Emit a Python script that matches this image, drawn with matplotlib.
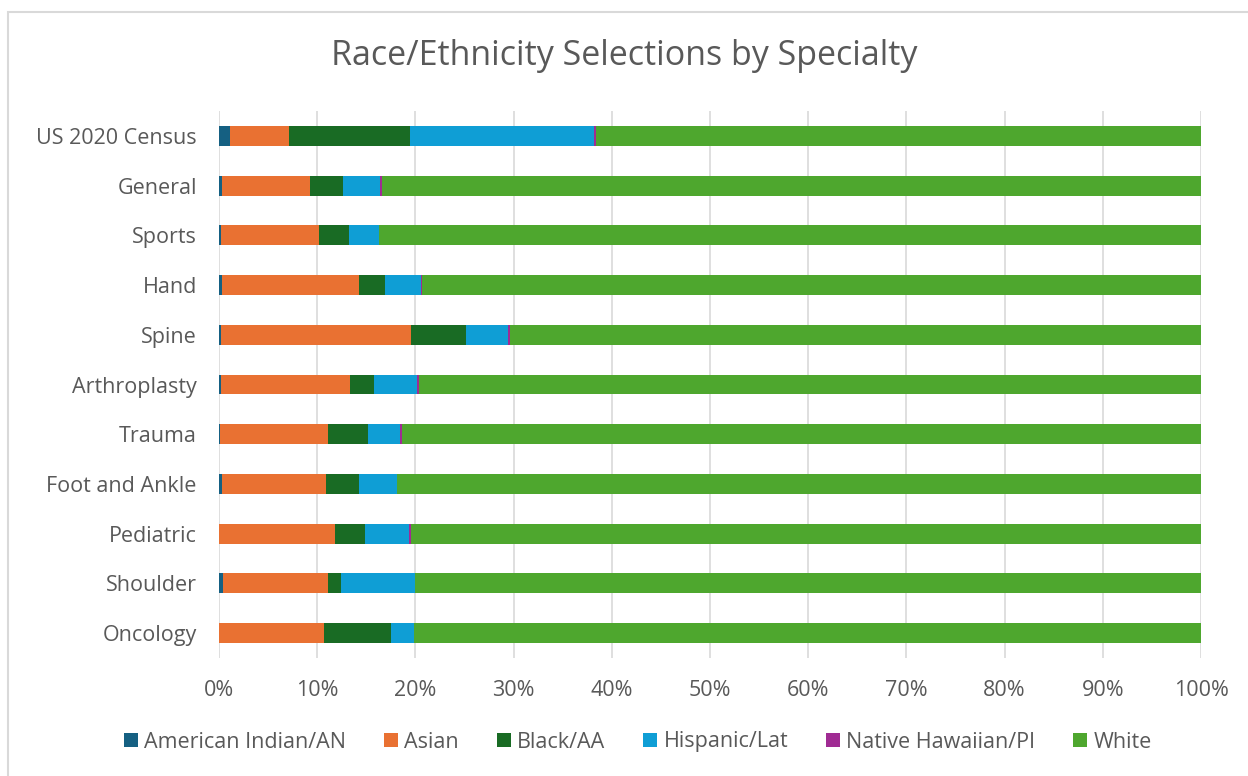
import matplotlib.pyplot as plt
from matplotlib.patches import Rectangle
from matplotlib.ticker import PercentFormatter

plt.rcParams['font.family'] = ['Open Sans', 'DejaVu Sans']

# categories top to bottom
specialties = ['US 2020 Census', 'General', 'Sports', 'Hand', 'Spine', 'Arthroplasty',
               'Trauma', 'Foot and Ankle', 'Pediatric', 'Shoulder', 'Oncology']
groups = ['American Indian/AN', 'Asian', 'Black/AA', 'Hispanic/Lat', 'Native Hawaiian/PI', 'White']
colors = ['#156082', '#E97132', '#196B24', '#0F9ED5', '#A02B93', '#4EA72E']

# share of selections in percent, one list per group (same order as specialties)
american_indian = [1.1, 0.35, 0.2, 0.3, 0.2, 0.2, 0.15, 0.3, 0.0, 0.4, 0.0]
asian = [6.0, 8.9, 10.0, 14.0, 19.4, 13.1, 10.9, 10.6, 11.85, 10.7, 10.7]
black = [12.4, 3.4, 3.0, 2.6, 5.6, 2.5, 4.1, 3.35, 3.05, 1.3, 6.8]
hispanic = [18.7, 3.7, 3.1, 3.7, 4.2, 4.35, 3.3, 3.9, 4.45, 7.6, 2.4]
native_hawaiian = [0.2, 0.2, 0.0, 0.1, 0.2, 0.2, 0.2, 0.0, 0.2, 0.0, 0.0]
white = [61.6, 83.45, 83.7, 79.3, 70.4, 79.65, 81.35, 81.85, 80.45, 80.0, 80.1]

series = [american_indian, asian, black, hispanic, native_hawaiian, white]

fig = plt.figure(figsize=(12.48, 7.76), dpi=100)
ax = fig.add_axes([219 / 1248, 1 - 658 / 776, 982 / 1248, 547 / 776])

# thin grey frame around the chart area
fig.patches.append(Rectangle((8 / 1248, -0.01), 1.0, 1 - 12 / 776 + 0.01, transform=fig.transFigure,
                             fill=False, edgecolor='#D9D9D9', linewidth=1.5))

ypos = list(range(len(specialties)))
left = [0.0] * len(specialties)
for name, vals, c in zip(groups, series, colors):
    ax.barh(ypos, vals, left=left, height=0.4, color=c, label=name, zorder=3)
    left = [l + v for l, v in zip(left, vals)]

ax.set_xlim(0, 100)
ax.set_ylim(len(specialties) - 0.5, -0.5)
ax.set_yticks(ypos)
ax.set_yticklabels(specialties)
ax.set_xticks(range(0, 101, 10))
ax.xaxis.set_major_formatter(PercentFormatter(decimals=0))
ax.tick_params(axis='both', length=0, labelsize=15.5, labelcolor='#595959')
ax.tick_params(axis='x', pad=16)
ax.tick_params(axis='y', pad=16)
ax.grid(axis='x', color='#D9D9D9', linewidth=1.2, zorder=0)
for s in ax.spines.values():
    s.set_visible(False)

fig.text(0.5, 1 - 56 / 776, 'Race/Ethnicity Selections by Specialty', ha='center', va='center',
         fontsize=24.5, color='#595959')

fig.legend(loc='center', bbox_to_anchor=(0.511, 1 - 742 / 776), ncol=6, frameon=False,
           fontsize=15.5, labelcolor='#595959', handlelength=0.65, handleheight=0.65,
           handletextpad=0.3, columnspacing=1.75)

fig.savefig('out.png', dpi=100)
